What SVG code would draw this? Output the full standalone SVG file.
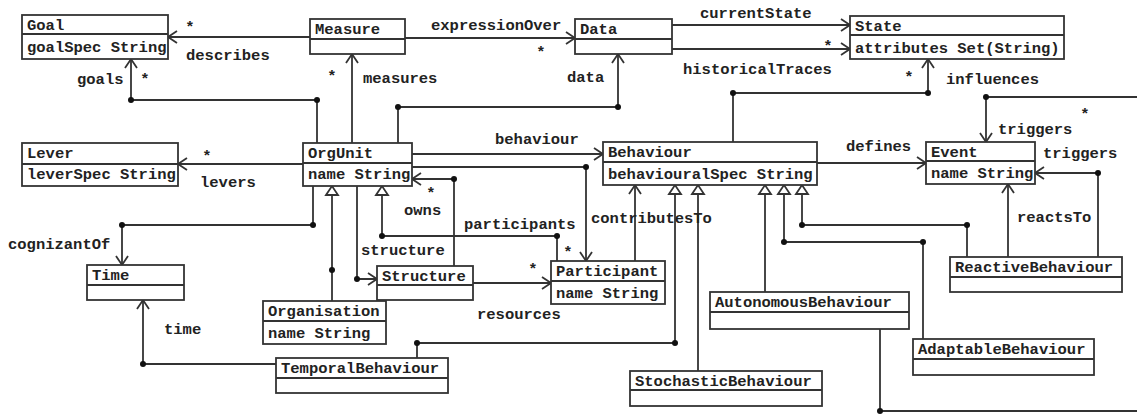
<svg xmlns="http://www.w3.org/2000/svg" width="1137" height="416" viewBox="0 0 1137 416">
  <style>
    .box { fill: #fff; stroke: #333; stroke-width: 1.8; }
    .div { stroke: #333; stroke-width: 1.8; }
    .name { font-family: "Liberation Mono", "Courier New", monospace; font-weight: bold; font-size: 15.5px; fill: #222; }
    .lbl { font-family: "Liberation Mono", "Courier New", monospace; font-weight: bold; font-size: 15.5px; fill: #222; }
    .mid { text-anchor: middle; }
    .edge { fill: none; stroke: #333; stroke-width: 1.8; }
    .nav { marker-end: url(#open); }
    .gen { marker-end: url(#tri); }
    .dot { fill: #111; }
  </style>
  <defs>
    <marker id="open" markerUnits="userSpaceOnUse" markerWidth="12" markerHeight="14" refX="9" refY="6" orient="auto" overflow="visible">
      <path d="M0,0 L9,6 L0,12" fill="none" stroke="#333" stroke-width="1.8"/>
    </marker>
    <marker id="tri" markerUnits="userSpaceOnUse" markerWidth="12" markerHeight="14" refX="9" refY="6" orient="auto" overflow="visible">
      <path d="M0,0 L9,6 L0,12 Z" fill="#fff" stroke="#333" stroke-width="1.8"/>
    </marker>
  </defs>

  <!-- connectors -->
  <g id="connectors">
    <path class="edge nav" d="M310,37 H168"/>
    <path class="edge nav" d="M405,38 H575"/>
    <path class="edge nav" d="M672,25 H850"/>
    <path class="edge nav" d="M672,49 H850"/>
    <path class="edge nav" d="M733,142 V93 H928 V59"/>
    <path class="edge nav" d="M1137,97 H986 V142"/>
    <path class="edge nav" d="M1098,257 V173 H1035"/>
    <path class="edge nav" d="M1008,257 V184"/>
    <path class="edge nav" d="M817,163 H926"/>
    <path class="edge nav" d="M412,154 H603"/>
    <path class="edge nav" d="M303,164 H178"/>
    <path class="edge nav" d="M317,143 V100 H131 V59"/>
    <path class="edge nav" d="M352,143 V54"/>
    <path class="edge nav" d="M398,143 V107 H618 V54"/>
    <path class="edge nav" d="M313,186 V225 H122 V265"/>
    <path class="edge nav" d="M357,186 V279 H377"/>
    <path class="edge nav" d="M454,266 V179 H412"/>
    <path class="edge nav" d="M412,167 H586 V261"/>
    <path class="edge nav" d="M473,283 H551"/>
    <path class="edge nav" d="M635,261 V185"/>
    <path class="edge nav" d="M276,364 H143 V300"/>
    <path class="edge gen" d="M332,301 V186"/>
    <path class="edge gen" d="M557,261 V236 H382 V186"/>
    <path class="edge gen" d="M417,358 V343 H675 V185"/>
    <path class="edge gen" d="M698,371 V185"/>
    <path class="edge gen" d="M765,292 V185"/>
    <path class="edge gen" d="M923,339 V242 H784 V185"/>
    <path class="edge gen" d="M967,257 V225 H802 V185"/>
    <path class="edge" d="M880,329 V411 H1137"/>

    <circle class="dot" cx="733" cy="93" r="3"/>
    <circle class="dot" cx="928" cy="93" r="3"/>
    <circle class="dot" cx="986" cy="97" r="3"/>
    <circle class="dot" cx="1098" cy="173" r="3"/>
    <circle class="dot" cx="317" cy="100" r="3"/>
    <circle class="dot" cx="131" cy="100" r="3"/>
    <circle class="dot" cx="398" cy="107" r="3"/>
    <circle class="dot" cx="618" cy="107" r="3"/>
    <circle class="dot" cx="313" cy="225" r="3"/>
    <circle class="dot" cx="122" cy="225" r="3"/>
    <circle class="dot" cx="357" cy="279" r="3"/>
    <circle class="dot" cx="454" cy="179" r="3"/>
    <circle class="dot" cx="586" cy="167" r="3"/>
    <circle class="dot" cx="332" cy="270" r="3"/>
    <circle class="dot" cx="557" cy="236" r="3"/>
    <circle class="dot" cx="382" cy="236" r="3"/>
    <circle class="dot" cx="417" cy="343" r="3"/>
    <circle class="dot" cx="675" cy="343" r="3"/>
    <circle class="dot" cx="923" cy="242" r="3"/>
    <circle class="dot" cx="784" cy="242" r="3"/>
    <circle class="dot" cx="967" cy="225" r="3"/>
    <circle class="dot" cx="802" cy="225" r="3"/>
    <circle class="dot" cx="143" cy="364" r="3"/>
    <circle class="dot" cx="880" cy="411" r="3"/>

    <!-- association labels and multiplicities -->
    <text class="lbl mid" x="190" y="32">*</text>
    <text class="lbl" x="186" y="60">describes</text>
    <text class="lbl" x="431" y="30">expressionOver</text>
    <text class="lbl mid" x="541" y="57">*</text>
    <text class="lbl" x="700" y="18">currentState</text>
    <text class="lbl mid" x="828" y="51">*</text>
    <text class="lbl" x="683" y="74">historicalTraces</text>
    <text class="lbl mid" x="909" y="82">*</text>
    <text class="lbl" x="946" y="84">influences</text>
    <text class="lbl mid" x="1085" y="119">*</text>
    <text class="lbl" x="998" y="134">triggers</text>
    <text class="lbl" x="1043" y="158">triggers</text>
    <text class="lbl" x="846" y="151">defines</text>
    <text class="lbl" x="1017" y="222">reactsTo</text>
    <text class="lbl" x="495" y="144">behaviour</text>
    <text class="lbl" x="77" y="84">goals</text>
    <text class="lbl mid" x="145" y="84">*</text>
    <text class="lbl mid" x="332" y="81">*</text>
    <text class="lbl" x="363" y="83">measures</text>
    <text class="lbl" x="567" y="82">data</text>
    <text class="lbl mid" x="207" y="161">*</text>
    <text class="lbl" x="200" y="187">levers</text>
    <text class="lbl mid" x="431" y="198">*</text>
    <text class="lbl" x="404" y="215">owns</text>
    <text class="lbl" x="464" y="229">participants</text>
    <text class="lbl mid" x="568" y="257">*</text>
    <text class="lbl" x="361" y="255">structure</text>
    <text class="lbl" x="591" y="223">contributesTo</text>
    <text class="lbl" x="8" y="249">cognizantOf</text>
    <text class="lbl mid" x="533" y="274">*</text>
    <text class="lbl" x="477" y="319">resources</text>
    <text class="lbl" x="164" y="334">time</text>
  </g>

  <!-- classes -->
  <g id="Goal">
    <rect class="box" x="22" y="15" width="146" height="44"/>
    <line class="div" x1="22" y1="34" x2="168" y2="34"/>
    <text class="name" x="27" y="30">Goal</text>
    <text class="name" x="27" y="52">goalSpec String</text>
  </g>
  <g id="Measure">
    <rect class="box" x="310" y="19" width="95" height="35"/>
    <line class="div" x1="310" y1="39" x2="405" y2="39"/>
    <text class="name" x="315" y="34">Measure</text>
  </g>
  <g id="Data">
    <rect class="box" x="575" y="19" width="97" height="35"/>
    <line class="div" x1="575" y1="39" x2="672" y2="39"/>
    <text class="name" x="580" y="34">Data</text>
  </g>
  <g id="State">
    <rect class="box" x="850" y="16" width="214" height="43"/>
    <line class="div" x1="850" y1="35" x2="1064" y2="35"/>
    <text class="name" x="855" y="31">State</text>
    <text class="name" x="855" y="53">attributes Set(String)</text>
  </g>
  <g id="Lever">
    <rect class="box" x="22" y="143" width="156" height="43"/>
    <line class="div" x1="22" y1="164" x2="178" y2="164"/>
    <text class="name" x="27" y="158">Lever</text>
    <text class="name" x="27" y="179">leverSpec String</text>
  </g>
  <g id="OrgUnit">
    <rect class="box" x="303" y="143" width="109" height="43"/>
    <line class="div" x1="303" y1="163" x2="412" y2="163"/>
    <text class="name" x="308" y="158">OrgUnit</text>
    <text class="name" x="308" y="179">name String</text>
  </g>
  <g id="Behaviour">
    <rect class="box" x="603" y="142" width="214" height="43"/>
    <line class="div" x1="603" y1="162" x2="817" y2="162"/>
    <text class="name" x="608" y="157">Behaviour</text>
    <text class="name" x="608" y="179">behaviouralSpec String</text>
  </g>
  <g id="Event">
    <rect class="box" x="926" y="142" width="109" height="42"/>
    <line class="div" x1="926" y1="161" x2="1035" y2="161"/>
    <text class="name" x="931" y="157">Event</text>
    <text class="name" x="931" y="178">name String</text>
  </g>
  <g id="Time">
    <rect class="box" x="87" y="265" width="97" height="35"/>
    <line class="div" x1="87" y1="285" x2="184" y2="285"/>
    <text class="name" x="92" y="280">Time</text>
  </g>
  <g id="Structure">
    <rect class="box" x="377" y="266" width="96" height="34"/>
    <line class="div" x1="377" y1="285" x2="473" y2="285"/>
    <text class="name" x="382" y="281">Structure</text>
  </g>
  <g id="Participant">
    <rect class="box" x="551" y="261" width="114" height="43"/>
    <line class="div" x1="551" y1="281" x2="665" y2="281"/>
    <text class="name" x="556" y="276">Participant</text>
    <text class="name" x="556" y="298">name String</text>
  </g>
  <g id="Organisation">
    <rect class="box" x="263" y="301" width="123" height="43"/>
    <line class="div" x1="263" y1="321" x2="386" y2="321"/>
    <text class="name" x="268" y="316">Organisation</text>
    <text class="name" x="268" y="338">name String</text>
  </g>
  <g id="TemporalBehaviour">
    <rect class="box" x="276" y="358" width="172" height="35"/>
    <line class="div" x1="276" y1="378" x2="448" y2="378"/>
    <text class="name" x="281" y="373">TemporalBehaviour</text>
  </g>
  <g id="StochasticBehaviour">
    <rect class="box" x="630" y="371" width="192" height="35"/>
    <line class="div" x1="630" y1="390" x2="822" y2="390"/>
    <text class="name" x="635" y="386">StochasticBehaviour</text>
  </g>
  <g id="AutonomousBehaviour">
    <rect class="box" x="710" y="292" width="199" height="37"/>
    <line class="div" x1="710" y1="312" x2="909" y2="312"/>
    <text class="name" x="715" y="307">AutonomousBehaviour</text>
  </g>
  <g id="AdaptableBehaviour">
    <rect class="box" x="913" y="339" width="181" height="36"/>
    <line class="div" x1="913" y1="359" x2="1094" y2="359"/>
    <text class="name" x="918" y="354">AdaptableBehaviour</text>
  </g>
  <g id="ReactiveBehaviour">
    <rect class="box" x="950" y="257" width="172" height="35"/>
    <line class="div" x1="950" y1="277" x2="1122" y2="277"/>
    <text class="name" x="955" y="272">ReactiveBehaviour</text>
  </g>
</svg>
